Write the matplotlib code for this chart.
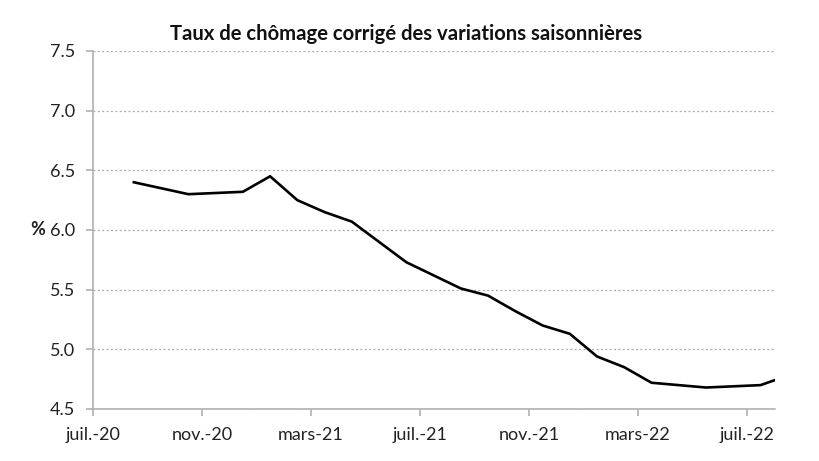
import numpy as np
import matplotlib
matplotlib.use("Agg")
import matplotlib.pyplot as plt

# monthly unemployment rate, aug-20 .. aug-22
months = ["août-20", "sept.-20", "oct.-20", "nov.-20", "déc.-20",
          "janv.-21", "févr.-21", "mars-21", "avr.-21", "mai-21", "juin-21",
          "juil.-21", "août-21", "sept.-21", "oct.-21", "nov.-21", "déc.-21",
          "janv.-22", "févr.-22", "mars-22", "avr.-22", "mai-22", "juin-22",
          "juil.-22", "août-22"]
rate = [6.40, 6.35, 6.30, 6.31, 6.32, 6.45, 6.25, 6.15, 6.07, 5.90, 5.73,
        5.62, 5.51, 5.45, 5.32, 5.20, 5.13, 4.94, 4.85, 4.72, 4.70, 4.68,
        4.69, 4.70, 4.78]
first_month = 1  # aug-20, counted from jul-20

tick_labels = ["juil.-20", "nov.-20", "mars-21", "juil.-21",
               "nov.-21", "mars-22", "juil.-22"]
tick_step = 4

plt.rcParams["font.family"] = ["Lato", "DejaVu Sans"]

fig = plt.figure(figsize=(8.2, 4.61), dpi=100)
ax = fig.add_axes([0.1134, 0.1128, 0.8317, 0.7766])

# points sit in the middle of each month
x = np.arange(len(rate)) + first_month + 0.5
ax.plot(x, rate, color="black", lw=1.9, solid_joinstyle="round")

ax.set_xlim(0, 25.03)
ax.set_ylim(4.5, 7.5)
ax.set_xticks(np.arange(len(tick_labels)) * tick_step)
ax.set_xticklabels(tick_labels)
ax.set_yticks(np.arange(4.5, 7.51, 0.5))
ax.set_yticklabels([f"{v:.1f}" for v in np.arange(4.5, 7.51, 0.5)])

ax.grid(axis="y", color="#a8a8a8", lw=0.9, linestyle=(0, (1.5, 2)))
ax.set_axisbelow(True)
for s in ["top", "right"]:
    ax.spines[s].set_visible(False)
for s in ["left", "bottom"]:
    ax.spines[s].set_color("#b0b0b0")
    ax.spines[s].set_linewidth(1.2)
ax.tick_params(axis="both", colors="#b0b0b0", length=5, width=1.2,
               labelcolor="#222222", labelsize=13)
ax.tick_params(axis="x", pad=8)
ax.tick_params(axis="y", pad=8)

ax.set_ylabel("%", rotation=0, fontsize=13, fontweight="bold", color="#222222",
              va="center", ha="center")
ax.yaxis.set_label_coords(-0.081, 0.5)

fig.text(0.495, 0.926, "Taux de chômage corrigé des variations saisonnières",
         ha="center", va="center", fontsize=14.6, fontweight="bold",
         color="#111111")

fig.savefig("out.png", dpi=100, facecolor="white")
